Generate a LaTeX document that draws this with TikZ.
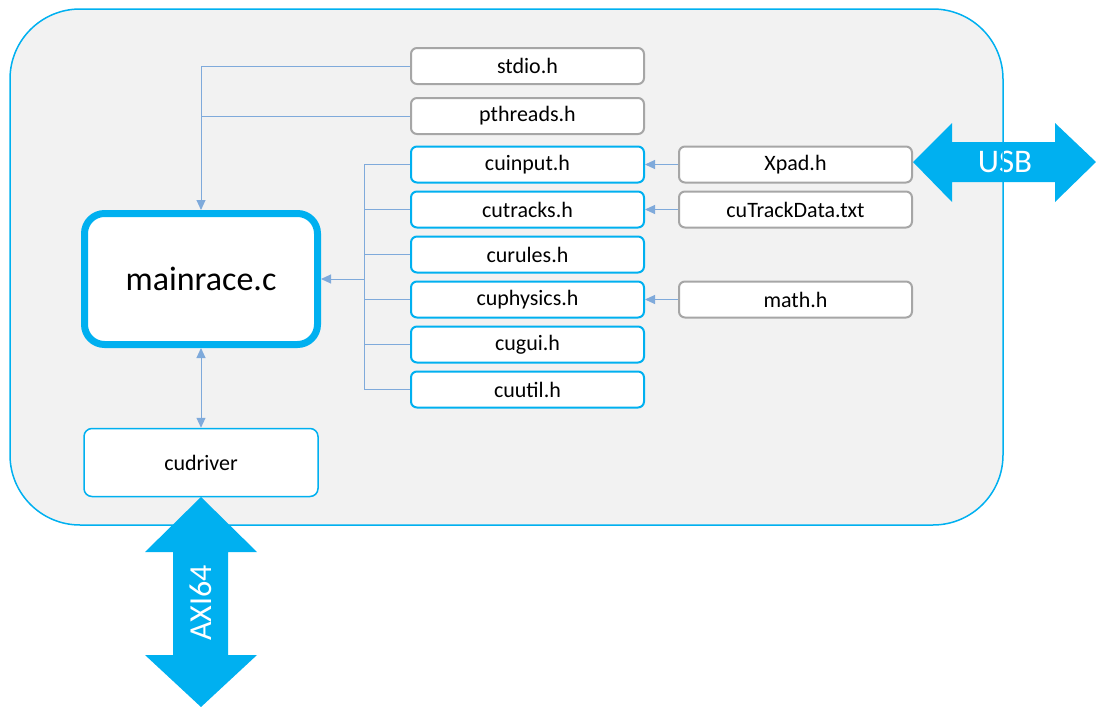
\documentclass[tikz,border=0pt]{standalone}
\usepackage{fontspec}
\setmainfont{Carlito}
\usetikzlibrary{positioning, arrows.meta}

\definecolor{cublue}{HTML}{00B0F0}
\definecolor{boxgray}{HTML}{A6A6A6}
\definecolor{panel}{HTML}{F2F2F2}
\definecolor{wire}{HTML}{7FAADB}

\begin{document}
\begin{tikzpicture}[x=1pt, y=-1pt,
    hdr/.style={draw=cublue, line width=2pt, fill=white, rounded corners=6pt, minimum width=233pt, minimum height=36pt, inner sep=0, node distance=45pt, font=\fontsize{22}{26}\selectfont},
    lib/.style={hdr, draw=boxgray},
    link/.style={draw=wire, line width=1pt},
    tip/.style={-{Triangle[length=10pt, width=9pt]}}]

  \useasboundingbox (0,0) rectangle (1096,707);

  % board background
  \fill[panel, rounded corners=70pt] (10,9) rectangle (1003,525);

  % bus arrows
  \fill[cublue] (913,162) -- (952,123) -- (952,142) -- (1055,142) -- (1055,123) -- (1096,162)
    -- (1055,202) -- (1055,182) -- (952,182) -- (952,202) -- cycle;
  \fill[cublue] (201,497) -- (257,552) -- (228,552) -- (228,655) -- (257,655) -- (201,707)
    -- (145,655) -- (173,655) -- (173,552) -- (145,552) -- cycle;
  \node[text=white, font=\fontsize{33}{38}\selectfont] (usb) at (1005,162) {USB};
  \node[text=white, rotate=90, font=\fontsize{32}{38}\selectfont] (axi) at (201,603) {AXI64};

  \draw[cublue, line width=1.5pt, rounded corners=70pt] (10,9) rectangle (1003,525);

  % system headers
  \node[lib] (stdio) at (527.5,66) {stdio.h};
  \node[lib] (pthreads) at (527.5,116) {pthreads.h};

  % project headers
  \node[hdr] (cuinput) at (527.5,164.5) {cuinput.h};
  \node[hdr, below of = cuinput] (cutracks) {cutracks.h};
  \node[hdr, below of = cutracks] (curules) {curules.h};
  \node[hdr, below of = curules] (cuphysics) {cuphysics.h};
  \node[hdr, below of = cuphysics] (cugui) {cugui.h};
  \node[hdr, below of = cugui] (cuutil) {cuutil.h};

  % external inputs
  \node[lib] (xpad) at (795.5,164.5) {Xpad.h};
  \node[lib, below of = xpad] (trackdata) {cuTrackData.txt};
  \node[lib] (math) at (795.5,299.5) {math.h};

  \node[draw=cublue, line width=7pt, fill=white, rounded corners=20pt, minimum width=233pt, minimum height=131pt, font=\fontsize{34}{40}\selectfont] (main) at (201,279) {mainrace.c};
  \node[draw=cublue, line width=1.5pt, fill=white, rounded corners=8pt, minimum width=234pt, minimum height=68pt, font=\fontsize{22}{26}\selectfont] (driver) at (201,462.5) {cudriver};

  % includes
  \draw[link, tip] (stdio.west) -| (main.north);
  \draw[link] (pthreads.west) -- (pthreads.west -| main.north);

  \coordinate (bus) at (364,279);
  \foreach \h in {cuinput, cutracks, curules, cuphysics, cugui, cuutil}
    \draw[link] (\h.west) -- (\h.west -| bus);
  \draw[link] (cuinput.west -| bus) -- (cuutil.west -| bus);
  \draw[link, tip] (bus) -- (main.east);

  \draw[link, tip] (xpad.west) -- (cuinput.east);
  \draw[link, tip] (trackdata.west) -- (cutracks.east);
  \draw[link, tip] (math.west) -- (cuphysics.east);

  \draw[link, {Triangle[length=10pt, width=9pt]}-{Triangle[length=10pt, width=9pt]}] (main.south) -- (driver.north);

\end{tikzpicture}
\end{document}
